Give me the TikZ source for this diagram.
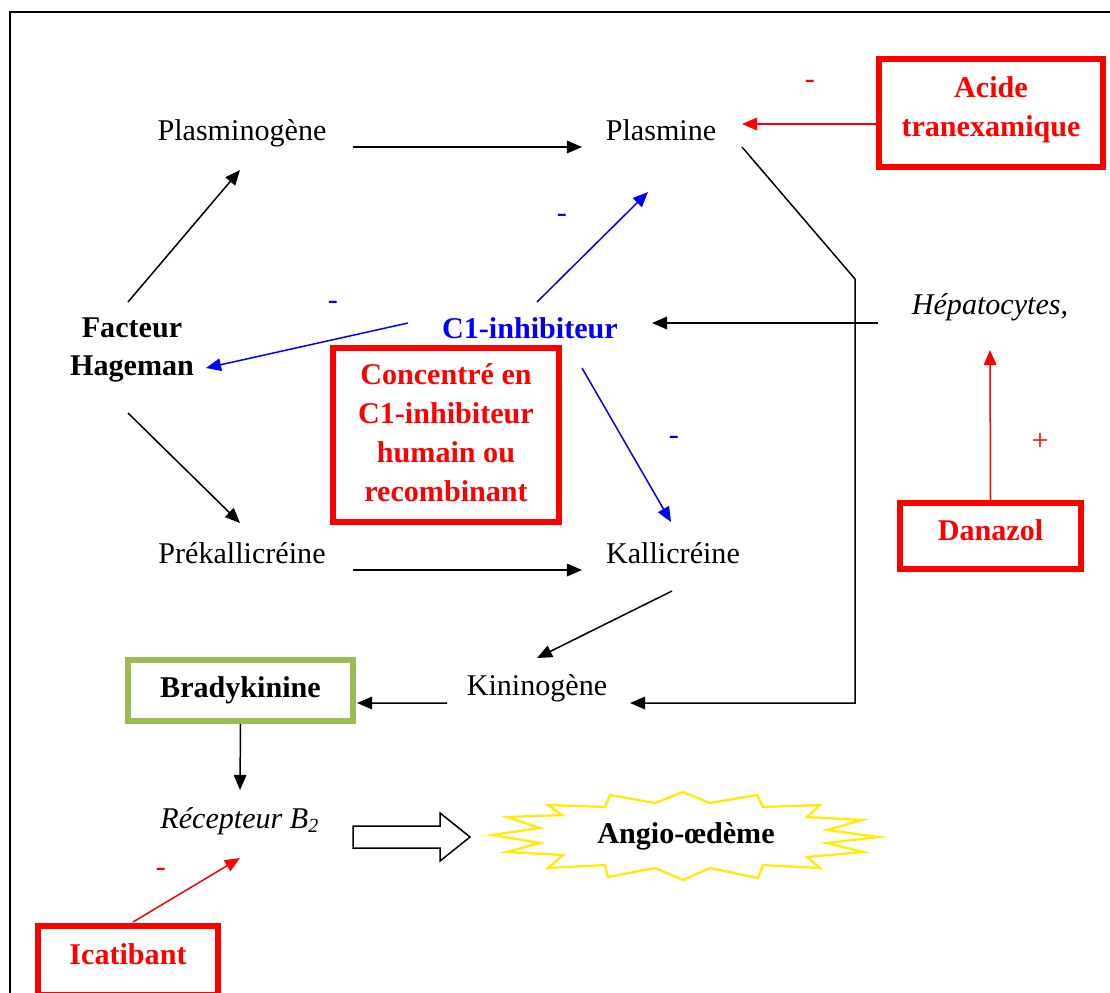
\documentclass[tikz,border=0pt]{standalone}
\usepackage{fontspec}
\setmainfont{Liberation Serif}
\usepackage{tikz}
\usetikzlibrary{calc}
\usetikzlibrary{arrows.meta}
\newcommand{\dgfont}{\fontsize{12}{15.5}\selectfont}
\definecolor{burst}{RGB}{255,236,0}
\definecolor{bradygreen}{RGB}{155,187,89}
\tikzset{entity/.style={inner sep=0pt, font=\dgfont}}
\tikzset{drug/.style={draw=red, line width=2.5pt, text=red, align=center, inner sep=0pt, text depth=5pt, font=\dgfont\bfseries}}
\tikzset{arr/.style={line width=0.6pt, -{Triangle[length=6pt,width=5pt]}}}

\begin{document}
\begin{tikzpicture}[x=0.014cm,y=-0.014cm]
  \useasboundingbox (0,0) rectangle (1110,992);
  \clip (0,0) rectangle (1110,992);
  \draw[line width=1.1pt] (10,12) rectangle (1130,1010);
  % plain entities
  \foreach \x/\y/\lab/\txt in {
    242/133/plasminogene/Plasminogène,
    661/130/plasmine/Plasmine,
    242/553/prekal/Prékallicréine,
    673/553/kal/Kallicréine,
    537/688/kinino/Kininogène%
  } {
    \node[entity] (\lab) at (\x, \y) {\txt};
  }
  \node[entity, font=\dgfont\bfseries, align=center] (facteur) at (132,350) {Facteur\\Hageman};
  \node[entity, font=\dgfont\bfseries, text=blue] (c1) at (530,328) {C1-inhibiteur};
  \node[entity, font=\dgfont\itshape] (hepato) at (990,307) {Hépatocytes,};
  \node[entity, font=\dgfont\itshape] (recep) at (240,821) {Récepteur B\textsubscript{2}};
  \node[entity, font=\dgfont\bfseries] (angio) at (686,836) {Angio-œdème};
  % boxes
  \node[drug, draw=bradygreen, text=black, text depth=3pt, minimum width=3.15cm, minimum height=0.854cm] (brady) at (240.5,690.5) {Bradykinine};
  \node[drug, minimum width=3.136cm, minimum height=1.512cm] (acide) at (991,113) {Acide\\tranexamique};
  \node[drug, text depth=2pt, minimum width=3.164cm, minimum height=2.436cm] (concentre) at (446,435) {Concentré en\\C1-inhibiteur\\humain ou\\recombinant};
  \node[drug, minimum width=2.534cm, minimum height=0.924cm] (danazol) at (990.5,536) {Danazol};
  \node[drug, minimum width=2.52cm, minimum height=0.966cm] (icatibant) at (128,960.5) {Icatibant};
  % signs
  \foreach \x/\y/\col/\s in {810/84/red/-, 562/218/blue/-, 333/305/blue/-, 674/440/blue/-, 1040/442/red/+, 161/872/red/-} {
    \node[entity, text=\col] (sign\x) at (\x, \y) {\s};
  }
  % black arrows
  \foreach \u/\ux/\uy/\v/\vx/\vy in {
    plasminogene/111/14/plasmine/-79/17,
    facteur/-4/-48/plasminogene/-2/37,
    facteur/-4/63/prekal/-2/-30,
    hepato/-112/16/c1/122/-5,
    prekal/111/17/kal/-91/17,
    kal/-1/38/kinino/0/-30,
    kinino/-90/15/brady/116.5/12.5,
    brady/0/33.5/recep/0/-31%
  }{
    \draw[arr] ($(\u)+(\ux,\uy)$) -- ($(\v)+(\vx,\vy)$);
  }
  \draw[arr] ($(plasmine)+(81,17)$) -- ++(113,132) |- ($(kinino)+(93,15)$);
  % inhibitions
  \foreach \u/\ux/\uy/\v/\vx/\vy in {
    c1/7/-26/plasmine/-13/62,
    c1/-122/-5/facteur/74/18,
    c1/52/40/kal/-2/-31%
  }{
    \draw[arr, blue] ($(\u)+(\ux,\uy)$) -- ($(\v)+(\vx,\vy)$);
  }
  \draw[arr, red] ($(acide)+(-115,11)$) -- ($(plasmine)+(81,-6)$);
  \draw[arr, red] ($(danazol)+(0,-34)$) -- ($(hepato)+(0,43)$);
  \draw[arr, red] ($(icatibant)+(5,-38.5)$) -- ($(recep)+(0,37)$);
  % hollow arrow
  \draw[line width=0.6pt, fill=white] ($(recep)+(113,16)$) ++(0,-11) -- ++(87,0) -- ++(0,-13) -- ++(30,24) -- ++(-30,24) -- ++(0,-13) -- ++(-87,0) -- cycle;
  % explosion
  \begin{scope}[shift={(angio.center)}]
    \draw[burst, line width=0.9pt] (-194,-1) -- (-146,-8) -- (-179,-19) -- (-124,-21) -- (-138,-31) -- (-81,-29) -- (-76,-41) -- (-31,-33) -- (-3,-44) -- (24,-33) -- (71,-41) -- (77,-29) -- (134,-31) -- (121,-19) -- (176,-16) -- (141,-6) -- (192,1) -- (141,7) -- (177,16) -- (121,21) -- (134,32) -- (77,29) -- (72,42) -- (24,32) -- (-3,44) -- (-31,32) -- (-78,41) -- (-81,29) -- (-138,32) -- (-123,19) -- (-179,16) -- (-146,7) -- cycle;
  \end{scope}
\end{tikzpicture}
\end{document}
